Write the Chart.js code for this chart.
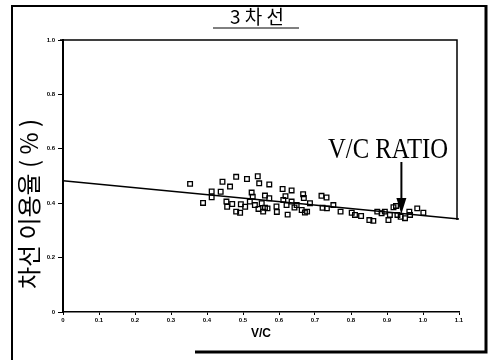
<!DOCTYPE html>
<html>
<head>
<meta charset="utf-8">
<script src="https://cdn.jsdelivr.net/npm/chart.js@4/dist/chart.umd.min.js"></script>
<style>
  body { margin: 0; background: #fff; }
</style>
</head>
<body>
<canvas id="grafico" width="492" height="360"></canvas>
<script>
var titolo = '3 차 선';
var titoloAsseY = '차선 이용율 ( % )';
var titoloAsseX = 'V/C';
var notaTesto = 'V/C RATIO';

// V/C (asse x) e uso corsia (asse y)
var valoriVC = [0.353,0.389,0.413,0.413,0.438,0.443,0.454,0.456,0.464,0.470,
                0.481,0.481,0.492,0.494,0.506,0.511,0.519,0.524,0.527,0.533,
                0.541,0.543,0.545,0.552,0.556,0.561,0.561,0.568,0.573,0.573,
                0.593,0.594,0.610,0.612,0.618,0.621,0.624,0.635,0.635,0.643,
                0.649,0.663,0.667,0.669,0.672,0.678,0.686,0.718,0.732,0.721,
                0.733,0.751,0.771,0.802,0.811,0.828,0.851,0.862,0.873,0.885,
                0.894,0.904,0.908,0.918,0.925,0.929,0.938,0.950,0.962,0.964,
                0.984,1.001];
var valoriUso = [0.471,0.401,0.443,0.422,0.442,0.479,0.406,0.387,0.461,0.397,
                 0.497,0.369,0.365,0.396,0.387,0.489,0.406,0.439,0.424,0.393,
                 0.499,0.379,0.473,0.400,0.369,0.428,0.383,0.381,0.469,0.418,
                 0.388,0.368,0.452,0.412,0.426,0.393,0.358,0.447,0.406,0.384,
                 0.393,0.375,0.433,0.419,0.366,0.369,0.400,0.427,0.421,0.383,
                 0.381,0.393,0.369,0.365,0.357,0.353,0.338,0.335,0.369,0.363,
                 0.369,0.338,0.357,0.385,0.390,0.357,0.350,0.345,0.369,0.357,
                 0.381,0.365];

// retta di regressione
var rettaX = [0, 1.1];
var rettaY = [0.483, 0.342];

var notaX = 0.94; // dove punta la freccia

var punti = [];
for (var i = 0; i < valoriVC.length; i++) {
    punti.push({x: valoriVC[i], y: valoriUso[i]});
}
var puntiRetta = [];
for (var j = 0; j < rettaX.length; j++) {
    puntiRetta.push({x: rettaX[j], y: rettaY[j]});
}

var decorazioni = {
    id: 'decorazioni',
    afterDraw: function (chart) {
        var ctx = chart.ctx;
        var area = chart.chartArea;
        ctx.save();
        ctx.strokeStyle = '#000';
        ctx.fillStyle = '#000';

        // cornice esterna
        ctx.lineWidth = 2;
        ctx.beginPath();
        ctx.moveTo(12, 360); ctx.lineTo(12, 6); ctx.lineTo(485, 6);
        ctx.stroke();
        ctx.lineWidth = 3;
        ctx.beginPath();
        ctx.moveTo(486, 5); ctx.lineTo(486, 352); ctx.lineTo(195, 352);
        ctx.stroke();

        // bordo alto e destro del grafico
        ctx.lineWidth = 1.5;
        ctx.beginPath();
        ctx.moveTo(60, area.top); ctx.lineTo(457, area.top); ctx.lineTo(457, 220);
        ctx.stroke();

        // titolo
        ctx.font = '19px "Noto Sans CJK KR"';
        ctx.textAlign = 'center';
        ctx.textBaseline = 'middle';
        ctx.fillText(titolo, 257, 17);
        ctx.lineWidth = 1;
        ctx.beginPath();
        ctx.moveTo(213, 28); ctx.lineTo(299, 28);
        ctx.stroke();

        // titolo asse y
        ctx.save();
        ctx.translate(29, 204);
        ctx.rotate(-Math.PI / 2);
        ctx.font = '24px "Noto Sans CJK KR"';
        ctx.fillText(titoloAsseY, 0, 0, 194);
        ctx.restore();

        // nota con freccia
        var fx = chart.scales.x.getPixelForValue(notaX);
        ctx.font = '30px "Liberation Serif"';
        ctx.textAlign = 'left';
        ctx.textBaseline = 'alphabetic';
        ctx.fillText(notaTesto, 328, 158, 120);
        ctx.lineWidth = 2;
        ctx.beginPath();
        ctx.moveTo(fx, 162); ctx.lineTo(fx, 200);
        ctx.stroke();
        ctx.beginPath();
        ctx.moveTo(fx - 5, 198); ctx.lineTo(fx + 5, 198); ctx.lineTo(fx, 214);
        ctx.closePath();
        ctx.fill();
        ctx.restore();
    }
};

var myChart = new Chart(document.getElementById('grafico'), {
    type: 'scatter',
    data: {
        datasets: [{
            data: punti,
            pointStyle: 'rect',
            pointRadius: 3.3,
            pointBorderWidth: 1.3,
            borderColor: '#000',
            backgroundColor: 'rgba(255,255,255,0)'
        }, {
            data: puntiRetta,
            showLine: true,
            borderColor: '#000',
            borderWidth: 1.5,
            pointRadius: 0
        }]
    },
    options: {
        responsive: false,
        animation: false,
        layout: { padding: { top: 40, right: 33, left: 0, bottom: 0 } },
        plugins: {
            legend: { display: false },
            tooltip: { enabled: false }
        },
        scales: {
            x: {
                type: 'linear',
                min: 0,
                max: 1.1,
                afterFit: function (s) { s.height = 48; },
                border: { color: '#000', width: 1.5 },
                grid: { drawOnChartArea: false, drawTicks: true, tickLength: 3, color: '#000' },
                ticks: {
                    stepSize: 0.1,
                    padding: 2,
                    color: '#000',
                    font: { family: 'Liberation Sans', size: 6, weight: 'bold' }
                },
                title: {
                    display: true,
                    text: titoloAsseX,
                    color: '#000',
                    padding: { top: 0, bottom: 19 },
                    font: { family: 'Liberation Sans', size: 12, weight: 'bold' }
                }
            },
            y: {
                min: 0,
                max: 1,
                afterFit: function (s) { s.width = 63; },
                border: { color: '#000', width: 2 },
                grid: { drawOnChartArea: false, drawTicks: true, tickLength: 5, color: '#000' },
                ticks: {
                    stepSize: 0.2,
                    padding: 3,
                    color: '#000',
                    font: { family: 'Liberation Sans', size: 6, weight: 'bold' }
                }
            }
        }
    },
    plugins: [decorazioni]
});
</script>
</body>
</html>
